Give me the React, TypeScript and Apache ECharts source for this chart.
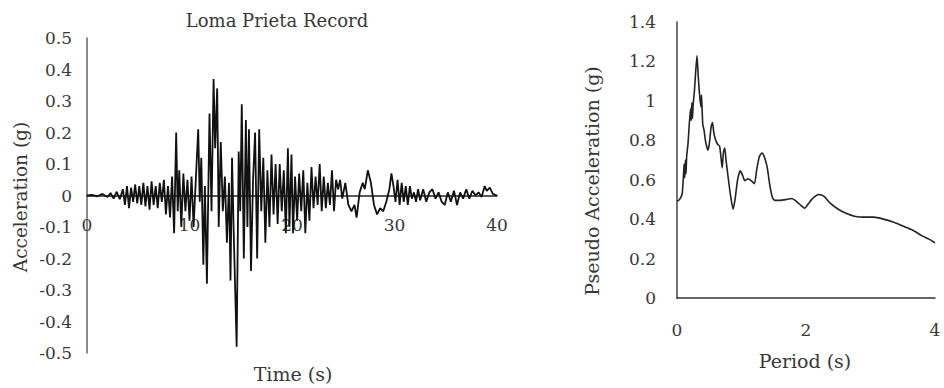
import React, { useEffect, useRef } from "react";
import * as echarts from "echarts";

// Loma Prieta acceleration record: time (s), acceleration (g)
const recordTime = [
  0, 0.5, 1.0, 1.5, 2.0, 2.3, 2.6, 2.9, 3.2, 3.5, 3.7, 3.9, 4.1, 4.3, 4.5, 4.7, 4.9, 5.1, 5.3, 5.5,
  5.7, 5.9, 6.1, 6.3, 6.5, 6.7, 6.9, 7.1, 7.3, 7.5, 7.7, 7.9, 8.1, 8.3, 8.5, 8.7, 8.85, 9.0, 9.2, 9.4,
  9.6, 9.8, 10.0, 10.2, 10.4, 10.6, 10.85, 11.0, 11.15, 11.35, 11.5, 11.7, 11.95, 12.15, 12.35, 12.5, 12.7, 12.85, 13.05, 13.25,
  13.45, 13.65, 13.85, 14.0, 14.15, 14.3, 14.6, 14.8, 14.95, 15.1, 15.3, 15.5, 15.65, 15.8, 16.0, 16.2, 16.4, 16.6, 16.8, 17.0,
  17.2, 17.4, 17.6, 17.8, 18.0, 18.2, 18.4, 18.6, 18.8, 19.0, 19.2, 19.4, 19.6, 19.75, 19.95, 20.1, 20.3, 20.5, 20.7, 20.9,
  21.1, 21.3, 21.5, 21.7, 21.9, 22.1, 22.3, 22.5, 22.7, 22.9, 23.1, 23.3, 23.5, 23.7, 23.9, 24.1, 24.3, 24.5, 24.7, 24.9,
  25.2, 25.5, 25.8, 26.1, 26.3, 26.6, 26.9, 27.1, 27.4, 27.7, 28.0, 28.3, 28.6, 28.9, 29.2, 29.5, 29.7, 29.9, 30.1, 30.3,
  30.5, 30.7, 30.9, 31.1, 31.3, 31.5, 31.7, 31.9, 32.1, 32.3, 32.5, 32.8, 33.1, 33.4, 33.7, 34.0, 34.3, 34.6, 34.9, 35.2,
  35.5, 35.8, 36.1, 36.4, 36.7, 37.0, 37.3, 37.6, 37.9, 38.2, 38.5, 38.8, 39.0, 39.3, 39.6, 40.0,
];
const recordAcc = [
  0, 0.002, -0.003, 0.005, -0.005, 0.008, -0.01, 0.012, -0.012, 0.02, -0.03, 0.03, -0.04, 0.025, -0.02, 0.035, -0.025, 0.03, -0.03, 0.04,
  -0.035, 0.03, -0.045, 0.045, -0.03, 0.03, -0.04, 0.04, -0.02, 0.05, -0.06, 0.03, -0.07, 0.06, -0.12, 0.2, -0.05, 0.08, -0.1, 0.07,
  -0.05, 0.05, -0.08, 0.06, -0.1, 0.04, 0.21, -0.02, 0.12, -0.22, 0.03, -0.28, 0.26, -0.05, 0.37, 0.15, 0.34, -0.1, 0.17, -0.05,
  0.06, -0.15, 0.04, -0.27, 0.12, -0.1, -0.48, 0.14, -0.05, 0.29, -0.2, 0.24, -0.1, 0.21, -0.24, 0.05, 0.2, -0.2, 0.21, -0.05,
  0.12, -0.15, 0.08, -0.1, 0.13, -0.06, 0.1, -0.09, 0.1, -0.05, 0.08, -0.12, 0.15, -0.1, 0.13, -0.12, 0.06, -0.08, 0.07, -0.05,
  0.08, -0.12, 0.04, -0.08, 0.09, -0.04, 0.06, -0.03, 0.1, -0.05, 0.06, -0.04, 0.04, -0.03, 0.08, -0.05, 0.05, 0.02, 0.05, -0.01,
  0.04, -0.03, -0.05, -0.03, -0.07, 0.01, 0.04, 0.02, 0.08, 0.04, -0.03, -0.06, -0.04, -0.05, -0.02, 0.02, 0.07, 0.03, -0.02, 0.05,
  -0.03, 0.04, -0.02, 0.03, -0.03, 0.03, -0.01, 0.01, -0.02, 0.02, -0.015, 0.02, -0.02, 0.01, 0.02, -0.01, 0.01, -0.02, -0.03, 0.01,
  -0.02, 0.015, -0.03, 0.01, -0.01, 0.02, -0.01, 0.015, 0.0, 0.01, -0.005, 0.03, 0.015, 0.025, 0.005, 0.0,
];

// Response spectrum: period (s), pseudo acceleration (g)
const specPeriod = [
  0, 0.04, 0.08, 0.1, 0.11, 0.12, 0.13, 0.14, 0.15, 0.17, 0.19, 0.21, 0.22, 0.23, 0.24, 0.25, 0.27, 0.29, 0.31, 0.33,
  0.35, 0.37, 0.38, 0.39, 0.4, 0.42, 0.44, 0.46, 0.48, 0.5, 0.53, 0.55, 0.57, 0.6, 0.63, 0.66, 0.68, 0.7, 0.72, 0.74,
  0.76, 0.79, 0.83, 0.87, 0.9, 0.94, 0.98, 1.02, 1.05, 1.1, 1.15, 1.2, 1.24, 1.28, 1.32, 1.36, 1.4, 1.44, 1.48, 1.52,
  1.6, 1.7, 1.78, 1.85, 1.92, 1.98, 2.04, 2.12, 2.2, 2.28, 2.38, 2.5, 2.62, 2.75, 2.9, 3.05, 3.2, 3.35, 3.5, 3.65,
  3.8, 3.9, 4.0,
];
const specAcc = [
  0.49, 0.5, 0.53, 0.62, 0.68, 0.61, 0.7, 0.63, 0.72, 0.78, 0.88, 0.96, 0.9, 0.99, 0.91, 0.98, 1.05, 1.15, 1.23, 1.12,
  1.03, 0.97, 1.03, 0.95, 0.88, 0.85, 0.8, 0.77, 0.75, 0.78, 0.87, 0.89, 0.84, 0.8, 0.78, 0.77, 0.72, 0.66, 0.74, 0.76,
  0.7, 0.62, 0.52, 0.45, 0.5, 0.6, 0.645, 0.62, 0.595, 0.605, 0.595, 0.58, 0.66, 0.72, 0.735, 0.71, 0.66, 0.57, 0.51, 0.495,
  0.495, 0.5, 0.505, 0.49, 0.47, 0.455, 0.48, 0.51, 0.525, 0.515, 0.48, 0.45, 0.43, 0.415, 0.41, 0.41, 0.4, 0.385, 0.365, 0.345,
  0.315, 0.3, 0.28,
];

const chartTitle = "Loma Prieta Record";
const leftYName = "Acceleration (g)";
const leftXName = "Time (s)";
const rightYName = "Pseudo Acceleration (g)";
const rightXName = "Period (s)";

const FONT = "DejaVu Serif";
const TEXT = "#383838";

export default function App() {
  const ref = useRef<HTMLDivElement>(null);
  useEffect(() => {
    if (!ref.current) return;
    const chart = echarts.init(ref.current, undefined, { renderer: "svg" });
    const labelStyle = { fontFamily: FONT, fontSize: 17, color: TEXT };
    const textStyle = (text: string, size: number) => ({
      text,
      fontFamily: FONT,
      fontSize: size,
      fill: TEXT,
      textAlign: "center",
      textVerticalAlign: "middle",
    });
    chart.setOption({
      animation: false,
      backgroundColor: "#ffffff",
      grid: [
        { left: 87, top: 38, width: 410, height: 315 },
        { left: 677, top: 22, width: 258, height: 276 },
      ],
      xAxis: [
        {
          type: "value",
          gridIndex: 0,
          min: 0,
          max: 40,
          interval: 10,
          position: "bottom",
          offset: -157,
          axisLine: { onZero: false, lineStyle: { color: "#222", width: 1.5 } },
          axisTick: { show: false },
          splitLine: { show: false },
          axisLabel: { ...labelStyle, margin: 20, showMinLabel: true, showMaxLabel: true },
        },
        {
          type: "value",
          gridIndex: 1,
          min: 0,
          max: 4,
          interval: 2,
          axisLine: { onZero: false, lineStyle: { color: "#333", width: 1.5 } },
          axisTick: { show: false },
          splitLine: { show: false },
          axisLabel: { ...labelStyle, margin: 23, showMinLabel: true, showMaxLabel: true },
        },
      ],
      yAxis: [
        {
          type: "value",
          gridIndex: 0,
          min: -0.5,
          max: 0.5,
          interval: 0.1,
          axisLine: { show: true, onZero: false, lineStyle: { color: "#666", width: 1.5 } },
          axisTick: { show: false },
          splitLine: { show: false },
          axisLabel: { ...labelStyle, margin: 15, formatter: (v: number) => String(Math.round(v * 10) / 10) },
        },
        {
          type: "value",
          gridIndex: 1,
          min: 0,
          max: 1.4,
          interval: 0.2,
          axisLine: { show: true, onZero: false, lineStyle: { color: "#444", width: 1.5 } },
          axisTick: { show: false },
          splitLine: { show: false },
          axisLabel: { ...labelStyle, margin: 21, formatter: (v: number) => String(Math.round(v * 10) / 10) },
        },
      ],
      series: [
        {
          type: "line",
          xAxisIndex: 0,
          yAxisIndex: 0,
          data: recordTime.map((t, i) => [t, recordAcc[i]]),
          showSymbol: false,
          symbol: "none",
          lineStyle: { color: "#111", width: 1.8 },
        },
        {
          type: "line",
          xAxisIndex: 1,
          yAxisIndex: 1,
          data: specPeriod.map((t, i) => [t, specAcc[i]]),
          showSymbol: false,
          symbol: "none",
          smooth: 0.2,
          lineStyle: { color: "#222", width: 1.6 },
        },
      ],
      graphic: [
        { type: "text", x: 277, y: 20, style: textStyle(chartTitle, 18) },
        { type: "text", x: 20, y: 197, rotation: Math.PI / 2, style: textStyle(leftYName, 18.5) },
        { type: "text", x: 293, y: 374, style: textStyle(leftXName, 19) },
        { type: "text", x: 592, y: 181, rotation: Math.PI / 2, style: textStyle(rightYName, 19) },
        { type: "text", x: 805, y: 361, style: textStyle(rightXName, 19) },
      ],
    });
    return () => chart.dispose();
  }, []);
  return (
    <div
      ref={ref}
      style={{ position: "absolute", left: 0, top: 0, width: 944, height: 388 }}
    />
  );
}
